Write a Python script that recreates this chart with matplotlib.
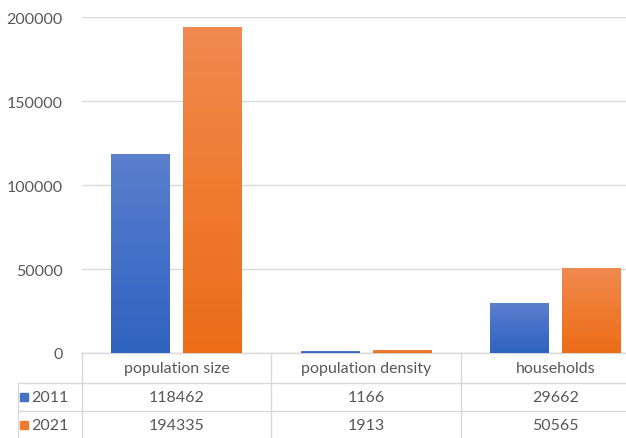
import numpy as np
import matplotlib.pyplot as plt
from matplotlib.colors import LinearSegmentedColormap

plt.rcParams['font.family'] = ['Lato', 'DejaVu Sans']

categories = ['population size', 'population density', 'households']
years = ['2011', '2021']
values_2011 = [118462, 1166, 29662]
values_2021 = [194335, 1913, 50565]
yticks = [0, 50000, 100000, 150000, 200000]

series = [values_2011, values_2021]
grads = [('#2f63c0', '#4470c8', '#5b80cd'), ('#ec6c18', '#ef7b30', '#f08a50')]
legend_cols = ['#4472c4', '#ed7d31']
text_col = '#595959'
grid_col = '#d9d9d9'

W, H = 626, 439
fig = plt.figure(figsize=(W / 100, H / 100), dpi=100)
ax = fig.add_axes([82 / W, (H - 354) / H, (650 - 82) / W, (354 - 18) / H])

x = np.arange(len(categories))
bw = 0.31
offsets = [-0.19, 0.19]

for vals, off, cols in zip(series, offsets, grads):
    bars = ax.bar(x + off, vals, width=bw, color=cols[0], zorder=2)
    cmap = LinearSegmentedColormap.from_list('g', list(cols))
    grad = np.linspace(0, 1, 256).reshape(-1, 1)
    for b in bars:
        x0, y0 = b.get_x(), b.get_y()
        im = ax.imshow(grad, cmap=cmap, origin='lower', aspect='auto',
                       extent=[x0, x0 + b.get_width(), y0, y0 + b.get_height()], zorder=3)
        im.set_clip_path(b)
ax.set_xlim(-0.5, len(categories) - 0.5)
ax.set_ylim(0, 200000)

ax.set_yticks(yticks)
ax.set_yticklabels([str(t) for t in yticks])
ax.tick_params(axis='y', length=0, pad=14, labelsize=11.5, labelcolor=text_col)
ax.set_xticks([])
ax.grid(axis='y', color=grid_col, linewidth=1, zorder=0)
for s in ax.spines.values():
    s.set_visible(False)

# data table under the plot
tr = ax.get_xaxis_transform()
row_y = [-0.045, -0.130, -0.215]
line_y = [0, -0.089, -0.173]
bottom = -0.26
left = -0.5 - 64 / 189
for i, c in enumerate(categories):
    ax.text(i, row_y[0], c, transform=tr, ha='center', va='center', fontsize=11.5, color=text_col)
    for r, vals in enumerate(series):
        ax.text(i, row_y[r + 1], str(vals[i]), transform=tr, ha='center', va='center',
                fontsize=11.5, color=text_col)
for xb in np.arange(len(categories) + 1) - 0.5:
    ax.plot([xb, xb], [0, bottom], transform=tr, color=grid_col, lw=1, clip_on=False)
ax.plot([-0.5, len(categories) - 0.5], [0, 0], transform=tr, color=grid_col, lw=1, clip_on=False)
for ly in line_y[1:]:
    ax.plot([left, len(categories) - 0.5], [ly, ly], transform=tr, color=grid_col, lw=1, clip_on=False)
ax.plot([left, left], [line_y[1], bottom], transform=tr, color=grid_col, lw=1, clip_on=False)
for r, y in enumerate(years):
    ax.plot([left + 0.03], [row_y[r + 1]], transform=tr, marker='s', ms=6, color=legend_cols[r],
            clip_on=False, ls='none')
    ax.text(left + 0.07, row_y[r + 1], y, transform=tr, ha='left', va='center', fontsize=11.5,
            color=text_col)

fig.savefig('out.png', dpi=100)
